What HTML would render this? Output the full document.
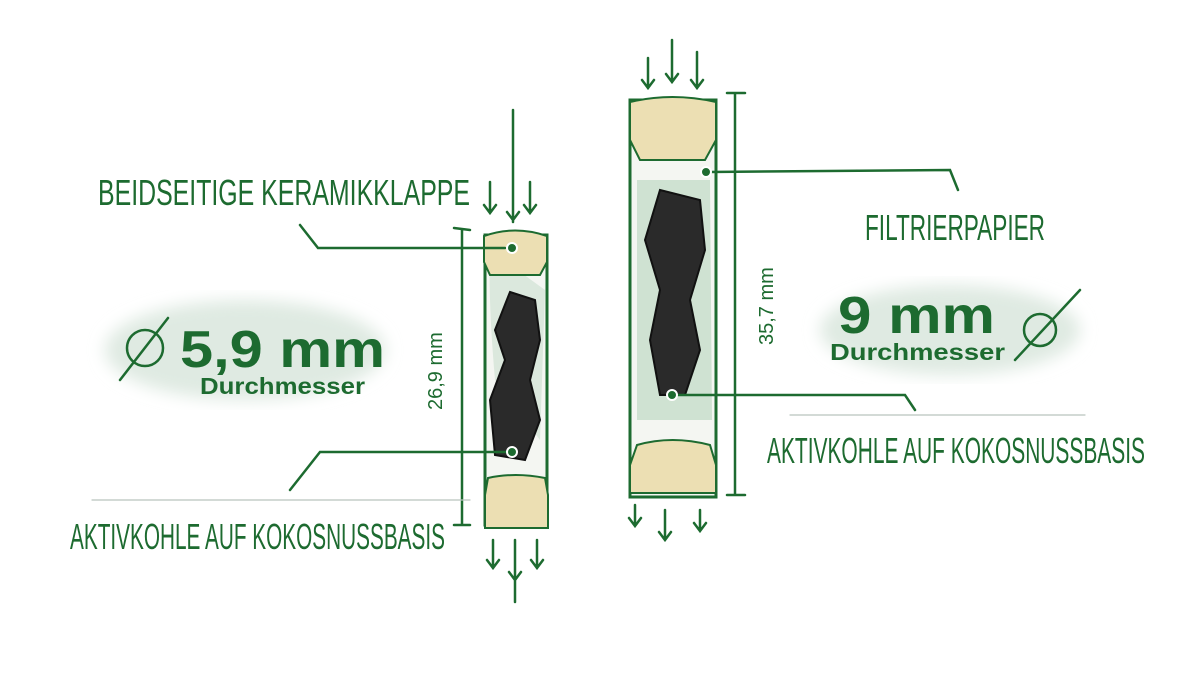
<!DOCTYPE html>
<html><head><meta charset="utf-8"><style>
body{margin:0;background:#fff;width:1200px;height:675px;overflow:hidden}
svg text{font-family:"Liberation Sans",sans-serif;fill:#1d6b30}
.h{font-family:"Liberation Sans Narrow","Liberation Sans",sans-serif;font-size:36px}
</style></head><body>
<svg width="1200" height="675" viewBox="0 0 1200 675" xmlns="http://www.w3.org/2000/svg">
<defs><filter id="b"><feGaussianBlur stdDeviation="8"/></filter></defs>
<g stroke="#1d6b30" fill="none" stroke-width="2.5" stroke-linecap="round">
<ellipse cx="245" cy="350" rx="140" ry="50" fill="#dfeae2" stroke="none" filter="url(#b)"/>
<ellipse cx="950" cy="330" rx="130" ry="45" fill="#dfeae2" stroke="none" filter="url(#b)"/>
<rect x="485" y="235" width="62" height="290" fill="#f4f6f2" stroke-width="3"/>
<path d="M490 250 Q488 300 495 380 L540 440 L545 290Z" fill="#dbe8dd" stroke="none"/>
<path d="M484 236 Q515 225 547 236 L547 262 L540 275 L490 275 L484 262Z" fill="#ecdfb3" stroke-width="2"/>
<path d="M488 478 Q515 472 545 478 L548 495 L548 528 L485 528 L485 495Z" fill="#ecdfb3" stroke-width="2"/>
<path d="M510 292 L535 300 L540 340 L530 380 L540 420 L525 460 L495 455 L490 400 L505 360 L495 330Z" fill="#2a2a2a" stroke="#111" stroke-width="2"/>
<rect x="630" y="100" width="86" height="397" fill="#f4f6f2" stroke-width="3"/>
<path d="M637 180 L710 180 L712 420 L637 420Z" fill="#cfe2d2" stroke="none"/>
<path d="M630 102 Q672 92 716 102 L716 140 L705 160 L640 160 L630 140Z" fill="#ecdfb3" stroke-width="2"/>
<path d="M637 445 Q672 435 710 445 L716 465 L716 493 L630 493 L630 465Z" fill="#ecdfb3" stroke-width="2"/>
<path d="M660 190 L700 200 L705 250 L690 300 L700 350 L685 395 L660 395 L650 340 L660 290 L645 240Z" fill="#2a2a2a" stroke="#111" stroke-width="2"/>
<path d="M513 110 L513 222 M490 182 L490 212 M484 205 L490 213 L496 205 M530 182 L530 212 M524 205 L530 213 L536 205 M507 212 L513 220 L519 212"/>
<path d="M493 540 L493 568 M487 560 L493 568 L499 560 M515 540 L515 602 M509 572 L515 580 L521 572 M537 540 L537 568 M531 560 L537 568 L543 560"/>
<path d="M648 58 L648 88 M642 80 L648 88 L654 80 M672 40 L672 82 M666 74 L672 82 L678 74 M697 52 L697 88 M691 80 L697 88 L703 80"/>
<path d="M635 505 L635 525 M629 518 L635 526 L641 518 M665 510 L665 540 M659 532 L665 540 L671 532 M700 510 L700 530 M694 523 L700 531 L706 523"/>
<path d="M462 230 L462 525 M454 228 L470 230 M454 525 L470 525"/>
<path d="M735 93 L735 495 M727 93 L745 93 M727 495 L745 495"/>
<path d="M300 225 L318 248 L505 248"/>
<path d="M290 490 L320 452 L510 452"/>
<path d="M708 172 L950 170 L958 190"/>
<path d="M672 395 L905 395 L915 410"/>
<path d="M92 500 L470 500 M790 415 L1085 415" stroke="#b9c4bd" stroke-width="1.2"/>
<circle cx="145" cy="348" r="18"/><path d="M120 380 L168 318"/>
<circle cx="1040" cy="330" r="16"/><path d="M1015 360 L1080 290"/>
</g>
<g fill="#1d6b30" stroke="#fff" stroke-width="2">
<circle cx="512" cy="248" r="5"/><circle cx="512" cy="452" r="5"/><circle cx="706" cy="172" r="5"/><circle cx="672" cy="395" r="5"/>
</g>
<text class="h" x="98" y="205" textLength="372" lengthAdjust="spacingAndGlyphs">BEIDSEITIGE KERAMIKKLAPPE</text>
<text class="h" x="70" y="549" textLength="375" lengthAdjust="spacingAndGlyphs">AKTIVKOHLE AUF KOKOSNUSSBASIS</text>
<text class="h" x="865" y="240" textLength="180" lengthAdjust="spacingAndGlyphs">FILTRIERPAPIER</text>
<text class="h" x="767" y="463" textLength="378" lengthAdjust="spacingAndGlyphs">AKTIVKOHLE AUF KOKOSNUSSBASIS</text>
<text x="180" y="367" font-size="52" font-weight="bold" textLength="205" lengthAdjust="spacingAndGlyphs">5,9 mm</text>
<text x="200" y="394" font-size="23" font-weight="bold" textLength="165" lengthAdjust="spacingAndGlyphs">Durchmesser</text>
<text x="838" y="333" font-size="52" font-weight="bold" textLength="157" lengthAdjust="spacingAndGlyphs">9 mm</text>
<text x="830" y="360" font-size="23" font-weight="bold" textLength="175" lengthAdjust="spacingAndGlyphs">Durchmesser</text>
<text x="0" y="0" font-size="20" transform="translate(442 410) rotate(-90)">26,9 mm</text>
<text x="0" y="0" font-size="20" transform="translate(773 345) rotate(-90)">35,7 mm</text>
</svg>
</body></html>
